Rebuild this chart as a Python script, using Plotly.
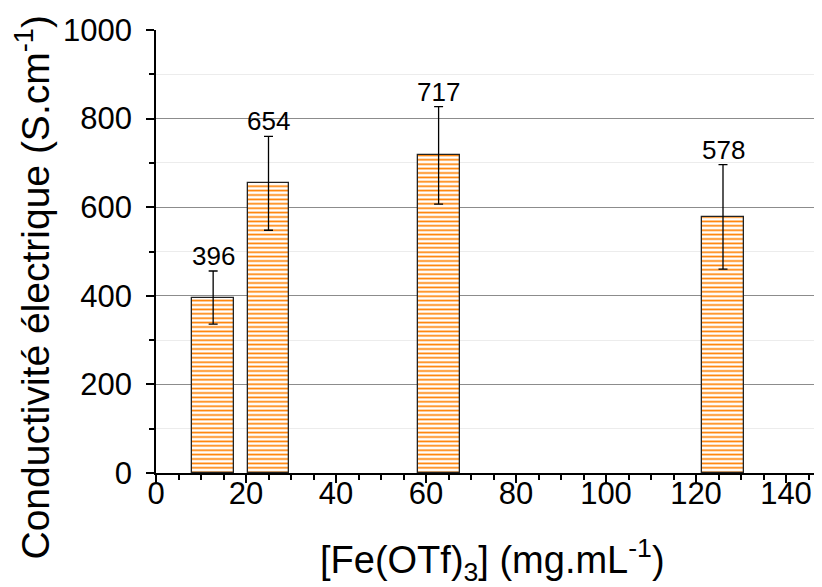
import plotly.graph_objects as go

# Data
concentration = [12.7, 25.0, 62.8, 126.0]          # [Fe(OTf)3] (mg/mL)
conductivity = [396, 654, 717, 578]                # S/cm
conductivity_err = [60, 106, 110, 118]             # error bars
value_labels = ["396", "654", "717", "578"]

FONT = "Liberation Sans, Arial, sans-serif"

fig = go.Figure()
fig.add_trace(go.Bar(
    x=concentration,
    y=conductivity,
    width=9.3,
    marker=dict(
        color="white",
        line=dict(color="#222222", width=1.3),
        pattern=dict(shape="-", fgcolor="#FF8000", bgcolor="white",
                     size=4.4, solidity=0.38, fillmode="replace"),
    ),
    error_y=dict(type="data", array=conductivity_err, visible=True,
                 color="black", thickness=1.3, width=4.5),
    showlegend=False,
))

for xv, yv, ev, lab in zip(concentration, conductivity, conductivity_err, value_labels):
    fig.add_annotation(x=xv, y=yv + ev, text=lab, showarrow=False,
                       yanchor="bottom", yshift=-2,
                       font=dict(family=FONT, size=26, color="black"))

# axis titles placed as annotations (positions like the reference)
fig.add_annotation(xref="paper", yref="paper", x=-0.186, y=0.419,
                   text="Conductivité électrique (S.cm<sup>-1</sup>)",
                   textangle=-90, showarrow=False,
                   xanchor="center", yanchor="middle",
                   font=dict(family=FONT, size=39, color="black"))
fig.add_annotation(xref="paper", yref="paper", x=0.506, y=-0.196,
                   text="[Fe(OTf)<sub>3</sub>] (mg.mL<sup>-1</sup>)",
                   showarrow=False, xanchor="center", yanchor="middle",
                   font=dict(family=FONT, size=38, color="black"))

fig.update_layout(
    width=822, height=587,
    margin=dict(l=148, r=8, t=22, b=122),
    plot_bgcolor="white", paper_bgcolor="white",
    font=dict(family=FONT, color="black"),
    bargap=0,
)

fig.update_xaxes(
    range=[0, 148], tick0=0, dtick=20, automargin=False,
    showline=True, linecolor="black", linewidth=1.5,
    ticks="outside", ticklen=8, tickwidth=1.5, tickcolor="black",
    tickfont=dict(family=FONT, size=31), ticklabelstandoff=-16,
    minor=dict(dtick=5, ticks="outside", ticklen=5, tickwidth=1.5, tickcolor="black", showgrid=False),
    showgrid=False, zeroline=False,
)
fig.update_yaxes(
    range=[0, 1000], tick0=0, dtick=200, automargin=False,
    showline=True, linecolor="black", linewidth=1.5,
    ticks="outside", ticklen=8, tickwidth=1.5, tickcolor="black",
    tickfont=dict(family=FONT, size=31), ticklabelstandoff=8,
    showgrid=True, gridcolor="#8c8c8c", gridwidth=1,
    minor=dict(dtick=100, ticks="outside", ticklen=5, tickwidth=1.5, tickcolor="black",
               showgrid=True, gridcolor="#ececec", gridwidth=1),
    zeroline=False,
)

fig.write_html("out.html")
